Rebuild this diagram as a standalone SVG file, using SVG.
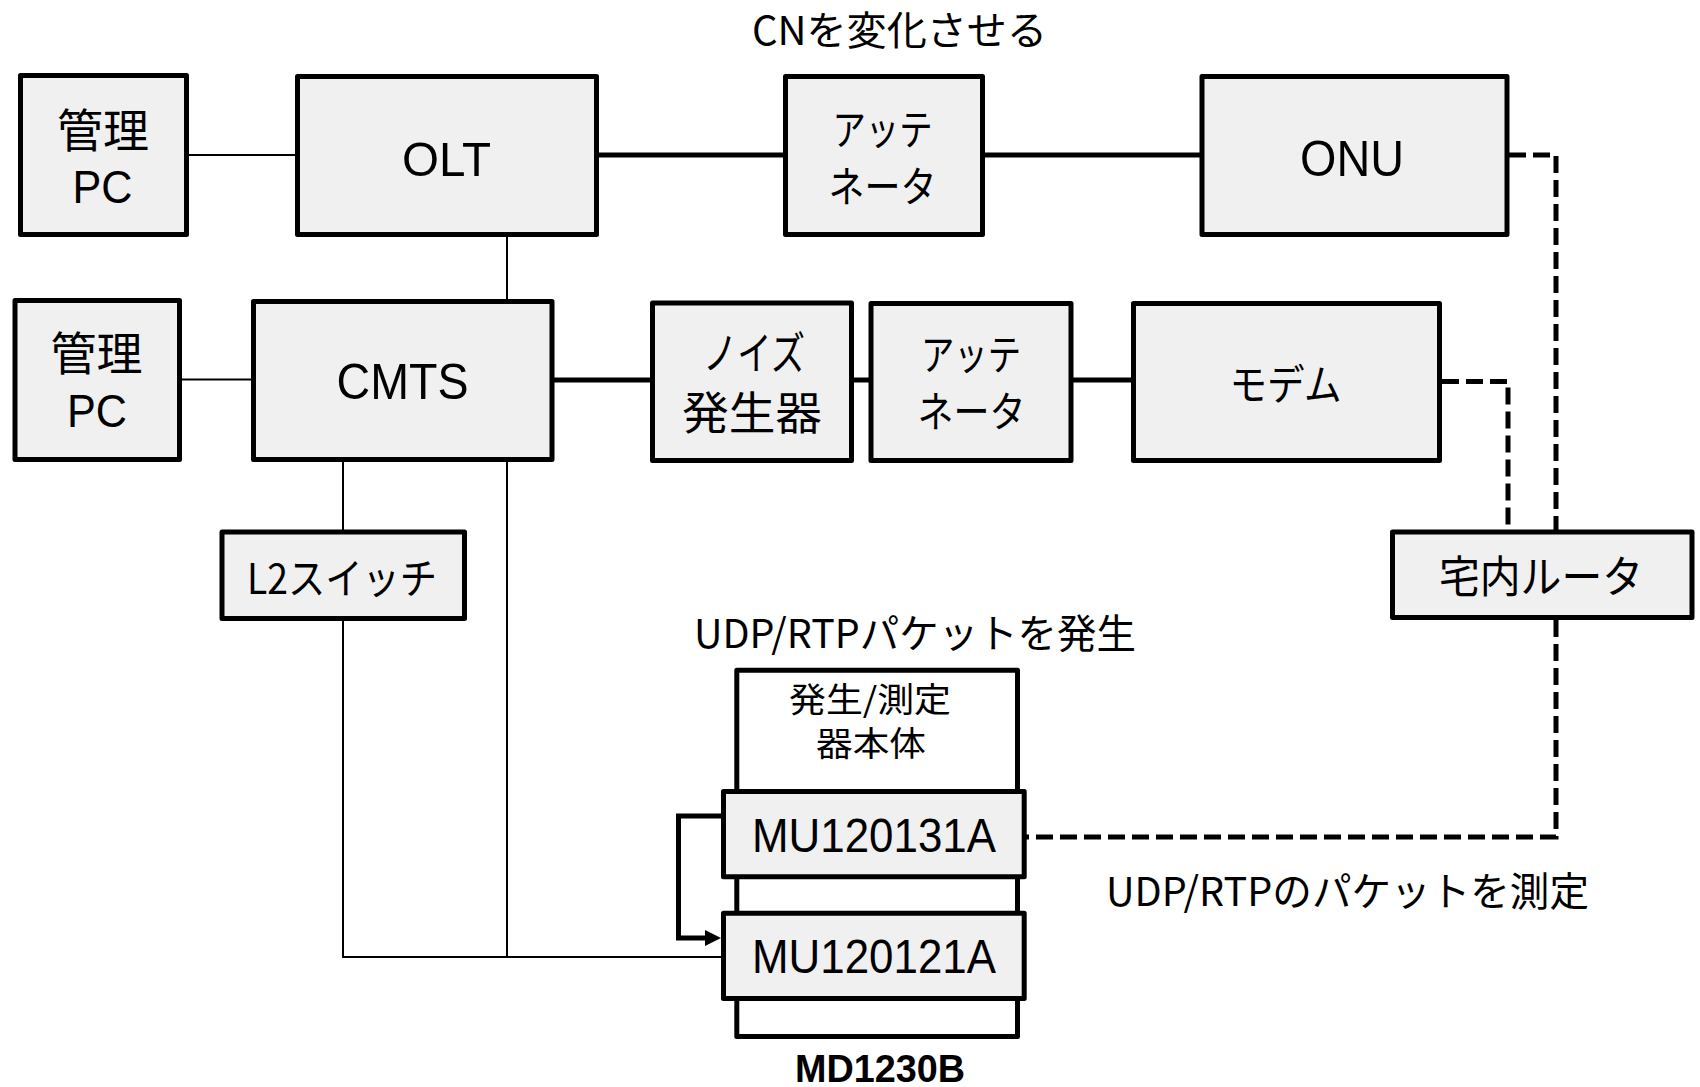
<svg xmlns="http://www.w3.org/2000/svg" width="1700" height="1087" viewBox="0 0 1700 1087">
<style>
.box{fill:#f0f0f0;stroke:#000;stroke-width:5;stroke-linejoin:round}
.wbox{fill:#fff;stroke:#000;stroke-width:5;stroke-linejoin:round}
.thin{fill:none;stroke:#000;stroke-width:2}
.thick{fill:none;stroke:#000;stroke-width:5}
.dash{fill:none;stroke:#000;stroke-width:5;stroke-dasharray:17 7}
.jp{font-family:"Noto Sans CJK JP","Liberation Sans",sans-serif;fill:#000;text-anchor:middle}
.la{font-family:"Liberation Sans","Noto Sans CJK JP",sans-serif;fill:#000;text-anchor:middle}
</style>
<defs>
<marker id="ah" viewBox="0 0 16 16" refX="0" refY="8" markerWidth="16" markerHeight="16" markerUnits="userSpaceOnUse" orient="auto">
<path d="M0,0 L16,8 L0,16 z" fill="#000"/>
</marker>
</defs>
<rect width="1700" height="1087" fill="#fff"/>

<g id="connectors">
<line class="thin" x1="189" y1="155" x2="296" y2="155"/>
<line class="thin" x1="182" y1="379.5" x2="252" y2="379.5"/>
<line class="thin" x1="507" y1="237" x2="507" y2="300"/>
<line class="thin" x1="343" y1="462" x2="343" y2="530"/>
<path class="thin" d="M343,621 V957 H722"/>
<line class="thin" x1="507" y1="462" x2="507" y2="957"/>
<line class="thick" x1="599" y1="155" x2="784" y2="155"/>
<line class="thick" x1="985" y1="155" x2="1200" y2="155"/>
<line class="thick" x1="554" y1="380" x2="651" y2="380"/>
<line class="thick" x1="854" y1="380" x2="869" y2="380"/>
<line class="thick" x1="1073" y1="380" x2="1132" y2="380"/>
<path class="thick" d="M722,816 H678.5 V938 H705" marker-end="url(#ah)"/>
<path class="dash" d="M1509,155 H1556 V530"/>
<path class="dash" d="M1442,381.5 H1508 V530"/>
<path class="dash" d="M1556,620 V837 H1026"/>
</g>

<g id="title">
<text class="jp" x="899.5" y="45" font-size="40" textLength="295" lengthAdjust="spacingAndGlyphs">CNを変化させる</text>
</g>

<g id="pc1">
<rect class="box" x="20.5" y="75.5" width="166" height="159"/>
<text class="jp" x="103" y="147" font-size="46">管理</text>
<text class="la" x="102.5" y="203" font-size="46" textLength="60" lengthAdjust="spacingAndGlyphs">PC</text>
</g>

<g id="olt">
<rect class="box" x="297.5" y="76.5" width="299" height="158"/>
<text class="la" x="446.5" y="175.5" font-size="49" textLength="89" lengthAdjust="spacingAndGlyphs">OLT</text>
</g>

<g id="att1">
<rect class="box" x="785.5" y="76.5" width="197" height="158"/>
<text class="jp" x="882.5" y="145" font-size="42" textLength="100" lengthAdjust="spacingAndGlyphs">アッテ</text>
<text class="jp" x="882.5" y="202" font-size="42" textLength="108" lengthAdjust="spacingAndGlyphs">ネータ</text>
</g>

<g id="onu">
<rect class="box" x="1202" y="76.5" width="305" height="158"/>
<text class="la" x="1352" y="176" font-size="50" textLength="104" lengthAdjust="spacingAndGlyphs">ONU</text>
</g>

<g id="pc2">
<rect class="box" x="15" y="300.5" width="164.5" height="159"/>
<text class="jp" x="96.5" y="370" font-size="46">管理</text>
<text class="la" x="97" y="427" font-size="46" textLength="60" lengthAdjust="spacingAndGlyphs">PC</text>
</g>

<g id="cmts">
<rect class="box" x="253.5" y="301.5" width="298.5" height="158"/>
<text class="la" x="402.5" y="399" font-size="50" textLength="132" lengthAdjust="spacingAndGlyphs">CMTS</text>
</g>

<g id="noise">
<rect class="box" x="652.5" y="303" width="199" height="157.5"/>
<text class="jp" x="754" y="370" font-size="45" textLength="102" lengthAdjust="spacingAndGlyphs">ノイズ</text>
<text class="jp" x="752" y="430" font-size="45" textLength="140" lengthAdjust="spacingAndGlyphs">発生器</text>
</g>

<g id="att2">
<rect class="box" x="871" y="303.5" width="200" height="157"/>
<text class="jp" x="971" y="370" font-size="42" textLength="100" lengthAdjust="spacingAndGlyphs">アッテ</text>
<text class="jp" x="971.5" y="427" font-size="42" textLength="108" lengthAdjust="spacingAndGlyphs">ネータ</text>
</g>

<g id="modem">
<rect class="box" x="1133.5" y="303.5" width="306" height="157"/>
<text class="jp" x="1285.5" y="400" font-size="42" textLength="112" lengthAdjust="spacingAndGlyphs">モデム</text>
</g>

<g id="l2sw">
<rect class="box" x="222" y="532" width="242.5" height="86.5"/>
<text class="jp" x="342" y="594" font-size="42" textLength="190" lengthAdjust="spacingAndGlyphs">L2スイッチ</text>
</g>

<g id="router">
<rect class="box" x="1392.5" y="532" width="299.5" height="85.5"/>
<text class="jp" x="1541" y="593" font-size="44" textLength="204" lengthAdjust="spacingAndGlyphs">宅内ルータ</text>
</g>

<g id="gen-label">
<text class="jp" x="915" y="648" font-size="40" textLength="442" lengthAdjust="spacingAndGlyphs">UDP/RTPパケットを発生</text>
</g>

<g id="md1230b">
<rect class="wbox" x="736.8" y="670.2" width="280.7" height="366.3"/>
<text class="jp" x="870" y="712" font-size="34" textLength="162" lengthAdjust="spacingAndGlyphs">発生/測定</text>
<text class="jp" x="871" y="756" font-size="34" textLength="110" lengthAdjust="spacingAndGlyphs">器本体</text>
<text class="la" x="880" y="1082" font-size="38" font-weight="bold" textLength="170" lengthAdjust="spacingAndGlyphs">MD1230B</text>
</g>

<g id="mu120131a">
<rect class="box" x="723.5" y="791.5" width="300.7" height="85.3"/>
<text class="la" x="874" y="852" font-size="48" textLength="244" lengthAdjust="spacingAndGlyphs">MU120131A</text>
</g>

<g id="mu120121a">
<rect class="box" x="723.5" y="913.2" width="300.7" height="85.3"/>
<text class="la" x="874" y="973" font-size="48" textLength="244" lengthAdjust="spacingAndGlyphs">MU120121A</text>
</g>

<g id="meas-label">
<text class="jp" x="1347.5" y="906" font-size="40" textLength="483" lengthAdjust="spacingAndGlyphs">UDP/RTPのパケットを測定</text>
</g>
</svg>
